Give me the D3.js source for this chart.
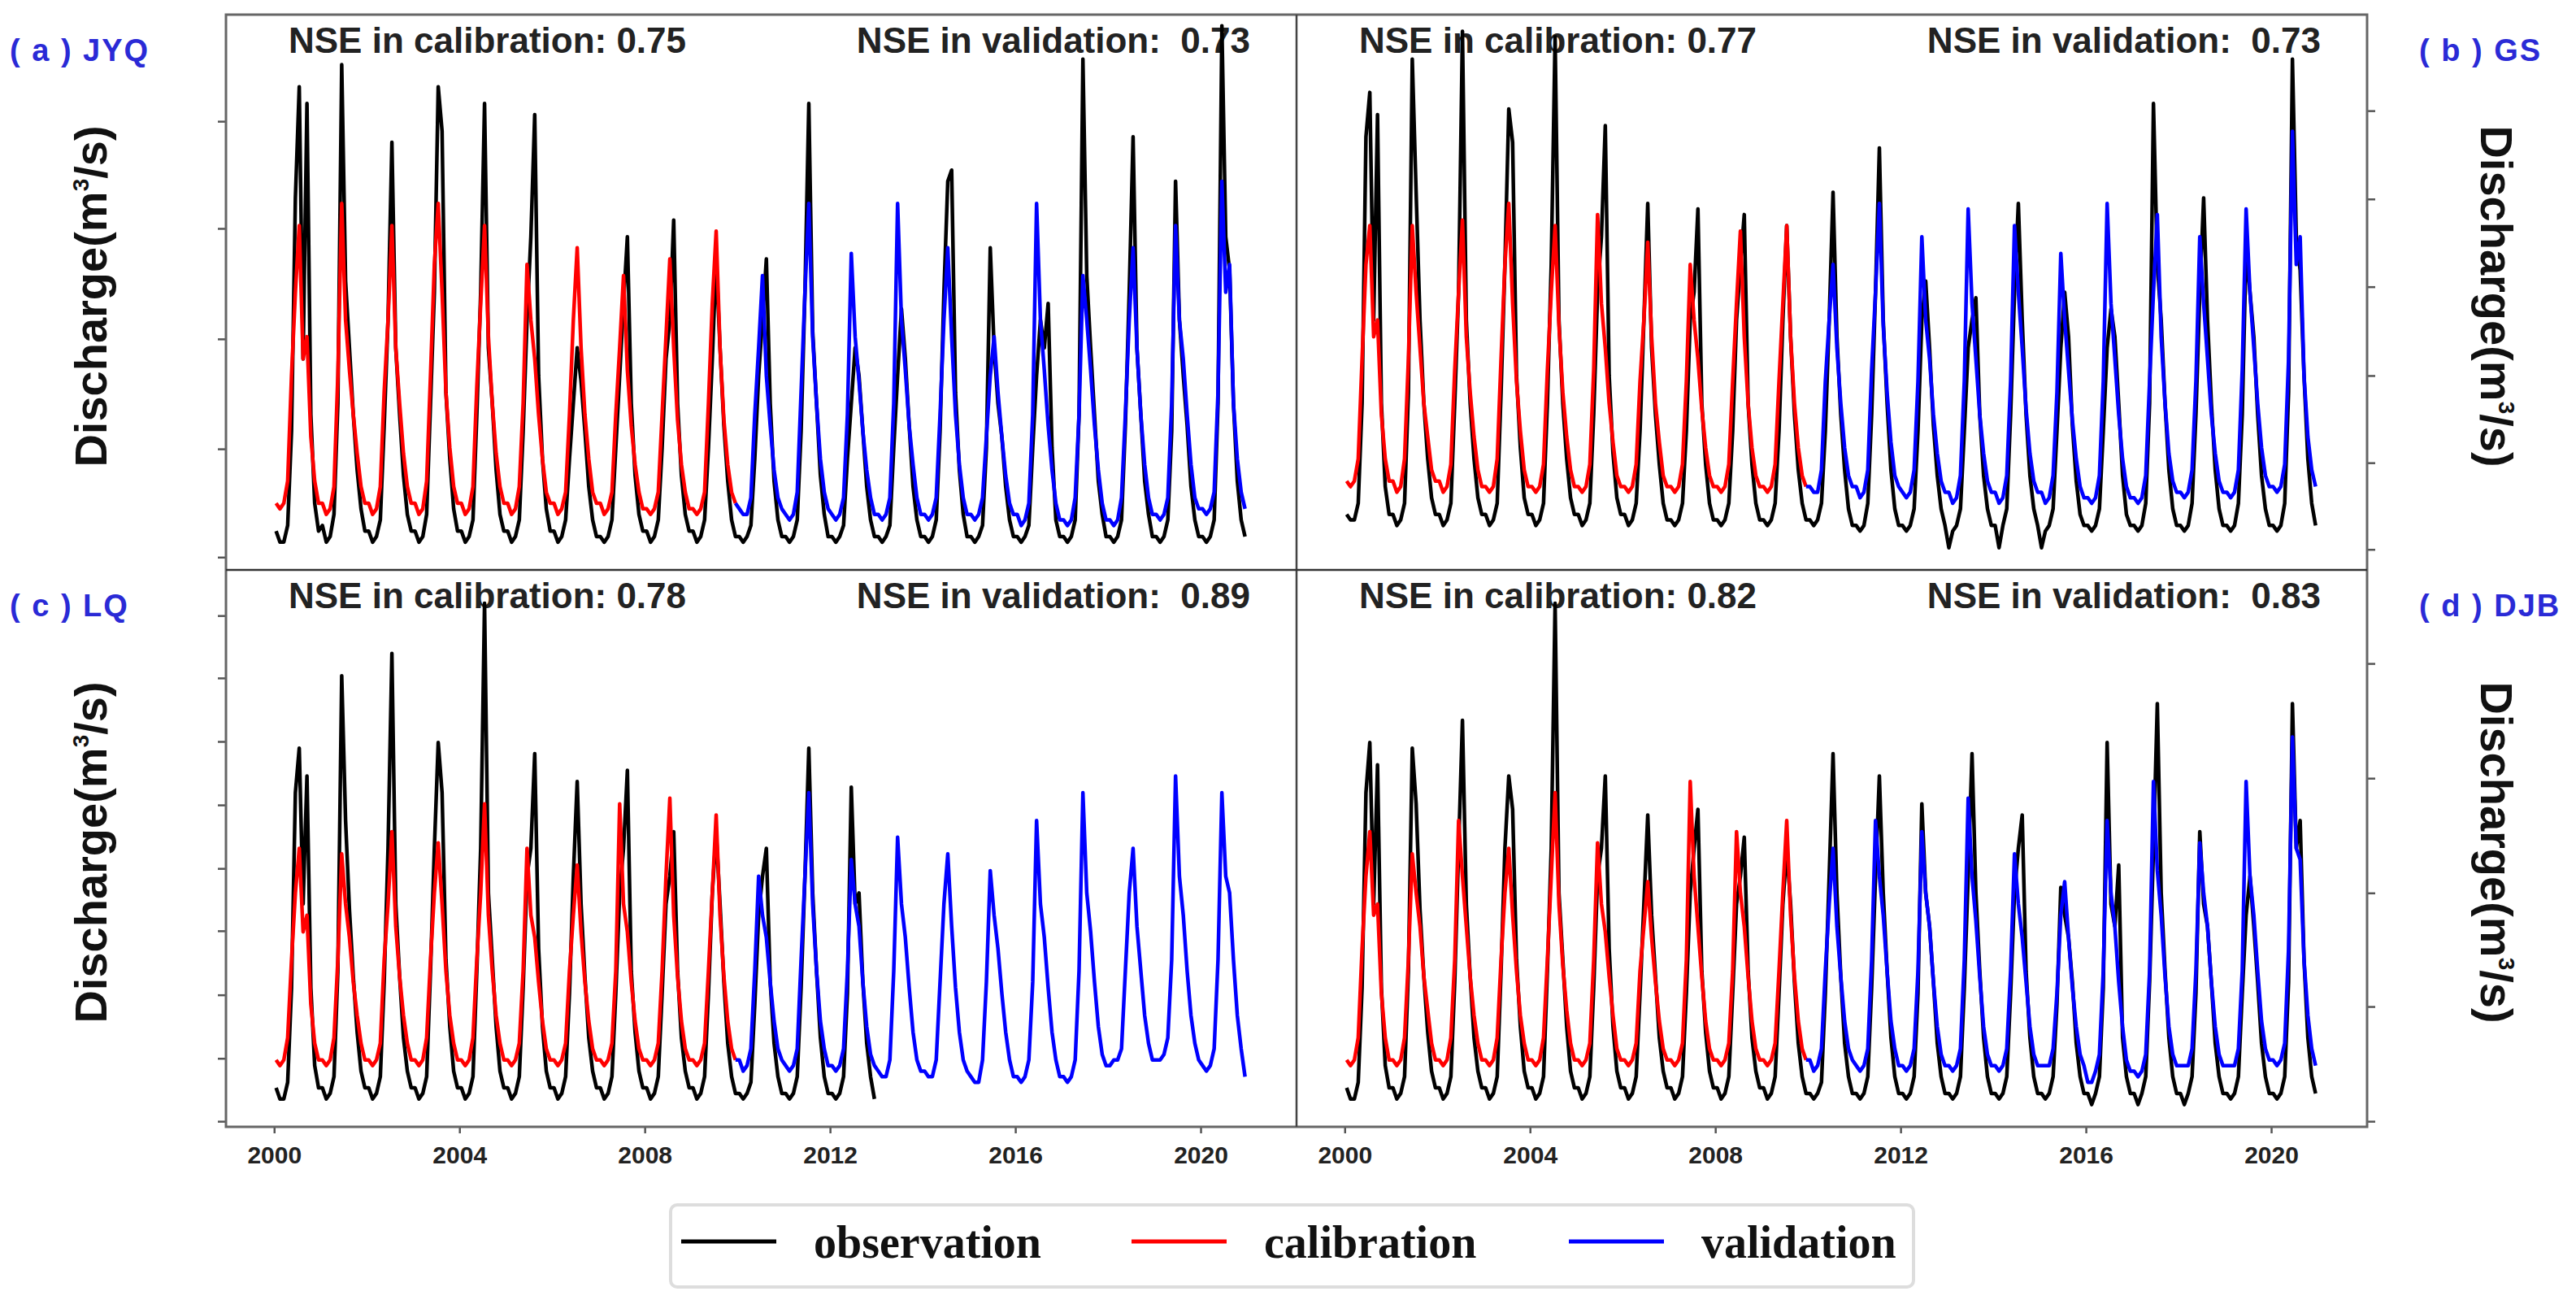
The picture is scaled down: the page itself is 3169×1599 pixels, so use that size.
<!DOCTYPE html>
<html>
<head>
<meta charset="utf-8">
<script src="https://cdn.jsdelivr.net/npm/d3@7"></script>
<style>
  body { margin: 0; background: #fff; }
  svg { display: block; }
</style>
</head>
<body>
<div id="chart"></div>
<script>
// station tags and NSE scores
const panelTags = ["( a ) JYQ", "( b ) GS", "( c ) LQ", "( d ) DJB"];
const nseCal = ["0.75", "0.77", "0.78", "0.82"];
const nseVal = ["0.73", "0.73", "0.89", "0.83"];
const yearTicks = [2000, 2004, 2008, 2012, 2016, 2020];
const legendNames = ["observation", "calibration", "validation"];

// monthly discharge from Jan 2000, relative units (0 = panel bottom, 100 = panel top)
// sim = model run, first 10 years is calibration, the rest validation
const jyqObs = [
  7,5,5,8,25,67,87,38,84,28,12,7,
  8,5,6,10,30,91,52,40,28,18,11,7,
  7,5,6,9,26,45,77,40,28,17,10,7,
  7,5,6,10,30,50,87,79,32,20,11,7,
  7,5,6,9,28,50,84,40,30,18,10,7,
  7,5,6,9,25,45,60,82,35,20,11,7,
  7,5,6,9,20,30,40,34,25,15,9,6,
  6,5,6,9,22,35,48,60,30,17,10,7,
  7,5,6,9,22,38,45,63,30,17,10,7,
  7,5,6,9,22,38,56,40,26,16,9,6,
  6,5,6,8,20,35,45,56,30,16,9,6,
  6,5,6,9,25,50,84,43,30,17,10,6,
  6,5,6,8,20,30,40,35,25,15,9,6,
  6,5,6,8,22,35,47,38,26,15,9,6,
  6,5,6,9,25,50,70,72,32,18,10,6,
  6,5,6,8,22,58,40,30,24,15,9,6,
  6,5,6,8,22,35,45,40,48,22,9,6,
  6,5,6,9,28,92,53,40,28,16,10,6,
  6,5,6,9,26,50,78,40,28,16,10,6,
  6,5,6,9,25,70,45,35,26,15,9,6,
  6,5,6,9,30,98,60,54,30,16,9,6
];
const jyqSim = [
  12,11,12,16,35,50,62,38,42,24,16,12,
  12,10,11,15,35,66,45,36,28,21,15,12,
  12,10,11,15,32,45,62,40,30,21,15,12,
  12,10,11,16,35,55,66,50,32,22,15,12,
  12,10,11,15,33,48,62,42,30,21,15,12,
  12,10,11,15,30,55,45,38,28,20,14,12,
  12,10,11,14,28,45,58,40,28,20,14,12,
  12,10,11,14,28,40,53,36,26,19,14,11,
  11,10,11,14,28,42,56,40,27,19,14,11,
  11,10,11,14,30,48,61,40,27,19,14,12,
  11,10,10,13,28,40,53,35,26,18,13,11,
  10,9,10,14,32,50,66,42,30,20,14,11,
  10,9,10,13,28,57,42,34,25,18,13,10,
  10,9,10,13,30,66,45,36,26,19,13,10,
  10,9,10,13,28,45,58,42,28,19,13,10,
  10,9,10,13,24,35,42,32,24,17,12,10,
  10,8,9,12,28,66,45,36,26,18,12,9,
  9,8,9,13,28,53,45,36,26,18,12,9,
  9,8,9,13,28,45,58,40,28,19,13,10,
  10,9,10,13,30,62,45,38,28,19,13,11,
  11,10,11,14,32,70,50,55,30,20,14,11
];
const gsObs = [
  10,9,9,12,30,78,86,45,82,30,15,10,
  10,8,9,12,32,92,68,45,30,20,13,10,
  10,8,9,12,30,50,97,45,30,20,13,10,
  10,8,9,12,32,55,83,77,35,22,13,10,
  10,8,9,12,30,55,96,45,30,20,13,10,
  10,8,9,12,28,50,60,80,35,21,13,10,
  10,8,9,12,25,45,66,40,28,19,12,9,
  9,8,9,12,25,45,50,65,30,19,12,9,
  9,8,9,12,25,45,55,64,30,19,12,9,
  9,8,9,12,25,45,62,42,28,18,12,9,
  9,8,9,12,25,45,68,42,28,18,11,8,
  8,7,8,12,28,50,76,45,30,18,11,8,
  8,7,8,11,25,45,52,40,26,17,11,8,
  4,7,8,11,25,40,45,49,28,17,11,8,
  8,4,8,11,28,50,66,45,28,17,11,8,
  4,7,8,11,25,40,50,42,26,16,10,8,
  8,7,8,11,25,40,47,42,30,17,10,8,
  8,7,8,12,30,84,55,45,30,18,11,8,
  8,7,8,12,28,50,67,45,30,18,11,8,
  8,7,8,12,28,58,50,42,28,17,11,8,
  8,7,8,12,32,92,60,54,35,20,12,8
];
const gsSim = [
  16,15,16,20,38,55,62,42,45,28,20,16,
  16,14,15,20,38,62,50,40,30,24,18,16,
  16,14,15,19,36,50,63,42,32,24,18,15,
  15,14,15,20,38,55,66,48,34,25,18,15,
  15,14,15,19,36,50,62,44,32,24,18,15,
  15,14,15,19,36,64,48,40,30,23,17,15,
  15,14,15,19,34,45,59,42,30,23,17,15,
  15,14,15,19,34,55,45,38,29,22,17,15,
  15,14,15,19,34,48,61,42,30,22,17,15,
  15,14,15,19,34,48,62,42,30,22,17,15,
  15,14,14,18,34,45,55,40,30,22,17,15,
  15,13,14,18,36,50,66,44,32,23,17,15,
  14,13,14,18,34,60,45,38,28,21,16,14,
  14,12,13,17,34,65,48,38,28,21,16,14,
  14,12,13,17,34,62,50,40,29,21,16,14,
  14,12,13,17,32,57,45,36,27,20,15,13,
  13,12,13,17,34,66,48,38,28,20,15,13,
  13,12,13,17,34,50,64,42,30,21,16,14,
  14,13,14,18,34,60,48,38,28,21,16,14,
  14,13,14,18,36,65,50,40,30,22,17,15,
  15,14,15,19,38,79,55,60,35,24,18,15
];
// LQ gauge record stops at the end of 2012
const lqObs = [
  7,5,5,8,25,60,68,40,63,25,11,7,
  7,5,6,9,28,81,55,39,27,17,10,7,
  7,5,6,9,26,50,85,40,27,16,10,7,
  7,5,6,9,28,50,69,60,30,18,10,7,
  7,5,6,9,28,50,94,42,30,18,10,7,
  7,5,6,9,25,45,50,67,32,18,10,7,
  7,5,6,9,24,45,62,40,27,16,10,7,
  7,5,6,9,24,42,50,64,28,17,10,7,
  7,5,6,9,24,40,45,53,28,16,10,7,
  7,5,6,9,24,42,53,40,26,15,9,6,
  6,5,6,8,22,38,45,50,26,15,9,6,
  6,5,6,9,25,45,68,42,28,16,9,6,
  6,5,6,9,24,61,40,42,26,15,9,5
];
const lqSim = [
  12,11,12,16,30,42,50,35,38,22,15,12,
  12,11,12,16,30,49,40,34,26,20,15,12,
  12,11,12,15,30,40,53,36,27,20,15,12,
  12,11,12,16,30,42,51,40,28,20,15,12,
  12,11,12,16,30,42,58,38,28,20,15,12,
  12,11,12,15,28,50,38,34,26,19,14,12,
  12,11,12,15,28,38,47,35,26,19,14,12,
  12,11,12,15,28,58,40,35,26,19,14,12,
  12,11,12,15,28,45,59,38,27,19,14,12,
  12,11,12,15,28,42,56,38,27,19,14,12,
  12,10,11,14,28,45,38,34,26,19,14,12,
  11,10,11,14,30,45,60,40,28,19,14,11,
  11,10,11,14,28,48,40,36,26,18,13,11,
  10,9,9,12,28,52,40,34,25,17,12,10,
  10,9,9,12,26,40,49,36,25,17,12,10,
  9,8,8,12,26,46,38,32,24,17,12,9,
  9,8,9,12,26,55,40,34,25,17,12,9,
  9,8,9,12,28,60,42,35,26,18,13,11,
  11,12,12,14,28,42,50,36,28,20,15,12,
  12,12,13,16,30,63,45,38,28,20,15,12,
  11,10,11,14,30,60,45,42,30,20,14,9
];
const djbObs = [
  7,5,5,8,25,60,69,40,65,25,11,7,
  7,5,6,9,28,68,58,39,27,17,10,7,
  7,5,6,9,26,50,73,40,27,16,10,7,
  7,5,6,9,28,50,63,57,30,18,10,7,
  7,5,6,9,28,50,94,42,30,18,10,7,
  7,5,6,9,25,45,50,63,32,18,10,7,
  7,5,6,9,24,40,56,38,27,16,10,7,
  7,5,6,9,24,42,50,57,28,17,10,7,
  7,5,6,9,24,40,45,52,28,16,10,7,
  7,5,6,9,24,40,50,40,26,15,9,6,
  6,5,6,8,24,45,67,42,27,15,9,6,
  6,5,6,9,25,45,63,42,28,16,9,6,
  6,5,6,9,24,58,42,36,26,15,9,6,
  6,5,6,9,25,45,67,42,28,16,9,6,
  6,5,6,9,24,42,50,56,28,16,9,6,
  6,5,6,9,22,43,38,34,26,15,9,6,
  6,4,6,9,25,69,40,36,47,16,9,6,
  6,4,6,9,26,50,76,42,28,16,9,6,
  6,4,6,9,24,53,40,36,26,15,9,6,
  6,5,6,9,24,38,45,36,26,15,9,6,
  6,5,6,9,26,76,50,55,30,16,9,6
];
const djbSim = [
  12,11,12,16,32,45,53,38,40,24,16,12,
  12,11,12,16,30,49,42,36,27,21,15,12,
  12,11,12,16,30,55,45,36,27,20,15,12,
  12,11,12,16,30,42,50,38,28,20,15,12,
  12,11,12,16,30,45,60,40,29,21,15,12,
  12,11,12,15,30,51,40,35,27,20,14,12,
  12,11,12,15,28,36,44,34,26,19,14,12,
  12,11,12,15,30,62,45,36,27,19,14,12,
  12,11,12,15,28,53,42,36,27,19,14,12,
  12,11,12,15,28,42,55,38,27,19,14,12,
  12,10,11,14,28,40,50,36,27,19,14,12,
  11,10,11,14,30,55,45,38,28,19,14,11,
  11,10,11,14,28,53,42,36,26,18,13,11,
  11,10,11,14,30,59,45,37,27,18,13,11,
  11,10,11,14,28,49,40,34,26,18,13,11,
  11,11,11,14,24,38,44,34,25,18,13,11,
  8,8,10,13,28,55,42,36,26,18,12,10,
  10,9,10,13,28,62,46,38,27,18,13,11,
  11,11,11,14,28,51,42,36,26,18,13,11,
  11,11,11,14,28,62,45,38,28,19,14,12,
  12,11,12,15,32,70,50,48,30,20,14,11
];

// unlabelled y ticks, same relative units
const jyqTicks = [2.3, 21.8, 41.6, 61.5, 80.8];
const gsTicks = [3.7, 19.3, 35.0, 51.0, 66.8, 82.7];
const lqTicks = [1.0, 12.3, 23.7, 35.2, 46.4, 57.8, 69.2, 80.6, 91.8];
const djbTicks = [1.0, 21.6, 42.0, 62.6, 83.2];

const panels = [
  { obs: jyqObs, sim: jyqSim, ticks: jyqTicks },
  { obs: gsObs, sim: gsSim, ticks: gsTicks },
  { obs: lqObs, sim: lqSim, ticks: lqTicks },
  { obs: djbObs, sim: djbSim, ticks: djbTicks }
];

const colors = { obs: "#000000", cal: "#ff0000", val: "#0000ff" };
const sans = "'Liberation Sans', Arial, sans-serif";

const width = 3169, height = 1599;
const frame = { left: 278, right: 2912, top: 18, mid: 701, bottom: 1386, split: 1595 };

const svg = d3.select("#chart").append("svg")
    .attr("width", width)
    .attr("height", height);

svg.append("rect").attr("width", width).attr("height", height).attr("fill", "#fff");

const monthT = i => 2000 + (i + 0.5) / 12;

panels.forEach((p, i) => {
    const col = i % 2, row = Math.floor(i / 2);
    const left = col ? frame.split : frame.left;
    const right = col ? frame.right : frame.split;
    const top = row ? frame.mid : frame.top;
    const bottom = row ? frame.bottom : frame.mid;

    const x = d3.scaleLinear().domain([1998.96, 2022.07]).range([left, right]);
    const y = d3.scaleLinear().domain([0, 100]).range([bottom, top]);

    svg.append("clipPath").attr("id", "clip" + i)
        .append("rect")
        .attr("x", left).attr("y", top)
        .attr("width", right - left).attr("height", bottom - top);

    // NSE notes
    svg.append("text")
        .attr("x", left + 77).attr("y", top + 47)
        .attr("font-family", sans).attr("font-weight", "bold").attr("font-size", 44)
        .attr("fill", "#222")
        .text("NSE in calibration: " + nseCal[i]);
    svg.append("text")
        .attr("x", left + 1260).attr("y", top + 47)
        .attr("text-anchor", "end")
        .style("white-space", "pre")
        .attr("font-family", sans).attr("font-weight", "bold").attr("font-size", 44)
        .attr("fill", "#222")
        .text("NSE in validation:  " + nseVal[i]);

    const line = d3.line().x(d => x(d.t)).y(d => y(d.v));
    const obsPts = p.obs.map((v, k) => ({ t: monthT(k), v }));
    const simPts = p.sim.map((v, k) => ({ t: monthT(k), v }));

    const g = svg.append("g").attr("clip-path", `url(#clip${i})`)
        .attr("fill", "none")
        .attr("stroke-linejoin", "round");

    g.append("path").datum(obsPts)
        .attr("d", line).attr("stroke", colors.obs).attr("stroke-width", 4.5);
    g.append("path").datum(simPts.slice(0, 120))
        .attr("d", line).attr("stroke", colors.cal).attr("stroke-width", 4.5);
    g.append("path").datum(simPts.slice(119))
        .attr("d", line).attr("stroke", colors.val).attr("stroke-width", 4.5);

    // y ticks outside the frame, no labels
    const yAxis = (col ? d3.axisRight(y) : d3.axisLeft(y))
        .tickValues(p.ticks).tickFormat("").tickSize(10);
    const ya = svg.append("g")
        .attr("transform", `translate(${col ? right : left},0)`)
        .call(yAxis);
    ya.select(".domain").remove();
    ya.selectAll(".tick line").attr("stroke", "#555").attr("stroke-width", 2.5);

    if (row === 1) {
        const xa = svg.append("g")
            .attr("transform", `translate(0,${bottom})`)
            .call(d3.axisBottom(x).tickValues(yearTicks).tickFormat(d3.format("d"))
                .tickSize(8).tickPadding(16));
        xa.select(".domain").remove();
        xa.selectAll(".tick line").attr("stroke", "#555").attr("stroke-width", 2.5);
        xa.selectAll(".tick text")
            .attr("font-family", sans).attr("font-weight", "bold")
            .attr("font-size", 30).attr("fill", "#222");
    }

    // station tag
    svg.append("text")
        .attr("x", col ? 2976 : 12)
        .attr("y", top + 57)
        .attr("font-family", sans).attr("font-weight", "bold").attr("font-size", 38)
        .attr("letter-spacing", 2)
        .attr("fill", "#2a2ad6")
        .text(panelTags[i]);

    // axis title
    const cx = col ? 3072 : 111;
    const cy = (top + bottom) / 2 + 5;
    const title = svg.append("text")
        .attr("transform", `translate(${cx},${cy}) rotate(${col ? 90 : -90})`)
        .attr("text-anchor", "middle")
        .attr("dy", "0.36em")
        .attr("font-family", sans).attr("font-weight", "bold").attr("font-size", 56)
        .attr("fill", "#111");
    title.append("tspan").text("Discharge(m");
    title.append("tspan").attr("font-size", 28).attr("dy", -22).text("3");
    title.append("tspan").attr("dy", 22).text("/s)");
});

// frame and dividers
svg.append("rect")
    .attr("x", frame.left).attr("y", frame.top)
    .attr("width", frame.right - frame.left).attr("height", frame.bottom - frame.top)
    .attr("fill", "none").attr("stroke", "#666").attr("stroke-width", 3);
svg.append("line")
    .attr("x1", frame.split).attr("x2", frame.split)
    .attr("y1", frame.top).attr("y2", frame.bottom)
    .attr("stroke", "#444").attr("stroke-width", 2.5);
svg.append("line")
    .attr("x1", frame.left).attr("x2", frame.right)
    .attr("y1", frame.mid).attr("y2", frame.mid)
    .attr("stroke", "#333").attr("stroke-width", 2.5);

// legend
const legend = svg.append("g");
legend.append("rect")
    .attr("x", 825).attr("y", 1482).attr("width", 1529).attr("height", 101)
    .attr("rx", 8).attr("fill", "#fff").attr("stroke", "#ddd").attr("stroke-width", 4);
const legendX = [838, 1392, 1930];
const legendColors = [colors.obs, colors.cal, colors.val];
legendNames.forEach((name, k) => {
    legend.append("line")
        .attr("x1", legendX[k]).attr("x2", legendX[k] + 117)
        .attr("y1", 1527).attr("y2", 1527)
        .attr("stroke", legendColors[k]).attr("stroke-width", 5);
    legend.append("text")
        .attr("x", legendX[k] + 163).attr("y", 1547)
        .attr("font-family", "'Liberation Serif', 'Times New Roman', serif")
        .attr("font-weight", "bold").attr("font-size", 56)
        .attr("fill", "#111")
        .text(name);
});
</script>
</body>
</html>
